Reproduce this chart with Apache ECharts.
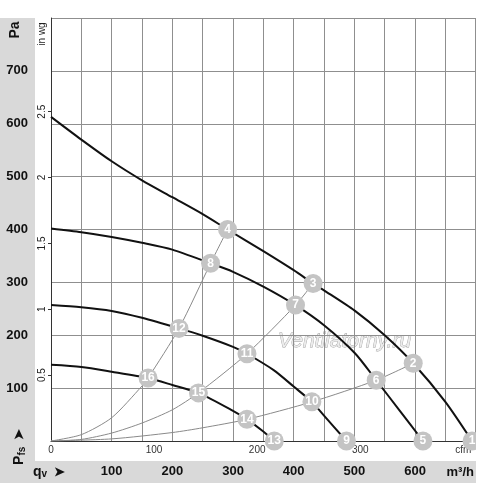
<!DOCTYPE html>
<html>
<head>
<meta charset="utf-8">
<script src="https://cdn.jsdelivr.net/npm/echarts@6.0.0/dist/echarts.min.js"></script>
<style>
  html, body { margin: 0; padding: 0; background: #fff; }
  #chart { width: 500px; height: 483px; }
</style>
</head>
<body>
<div id="chart"></div>
<script>
// fan curves: airflow m3/h vs static pressure Pa
var curve1Q = [0, 50, 100, 150, 200, 250, 291, 350, 400, 432, 450, 500, 550, 597, 650, 694];
var curve1P = [613, 570, 529, 493, 461, 429, 400, 359, 323, 298, 285, 247, 200, 147, 74, 0];
var curve2Q = [0, 50, 100, 150, 200, 263, 300, 350, 403, 450, 501, 536, 575, 613];
var curve2P = [402, 395, 386, 375, 362, 336, 320, 292, 257, 219, 166, 115, 57, 0];
var curve3Q = [0, 50, 100, 150, 211, 250, 300, 323, 367, 400, 430, 450, 487];
var curve3P = [257, 253, 246, 233, 213, 199, 178, 165, 134, 103, 74, 48, 0];
var curve4Q = [0, 50, 100, 160, 200, 243, 300, 323, 350, 368];
var curve4P = [144, 140, 131, 119, 106, 91, 57, 41, 18, 0];

// system (resistance) curves, thin gray
var sysAQ = [0, 50, 100, 150, 160, 211, 263, 291];
var sysAP = [0, 12, 44, 104, 119, 213, 336, 400];
var sysBQ = [0, 50, 100, 150, 200, 243, 323, 403, 432];
var sysBP = [0, 3, 15, 34, 59, 91, 165, 257, 298];
var sysCQ = [0, 100, 200, 250, 323, 430, 536, 597];
var sysCP = [0, 4, 16, 25, 41, 74, 115, 147];

// numbered operating points
var markNo = ['1', '2', '3', '4', '5', '6', '7', '8', '9', '10', '11', '12', '13', '14', '15', '16'];
var markQ = [694, 597, 432, 291, 613, 536, 403, 263, 487, 430, 323, 211, 368, 323, 243, 160];
var markP = [0, 147, 298, 400, 0, 115, 257, 336, 0, 74, 165, 213, 0, 41, 91, 119];

// axes
var paTicks = [100, 200, 300, 400, 500, 600, 700];
var m3hTicks = [100, 200, 300, 400, 500, 600];
var inWgTicks = [0.5, 1, 1.5, 2, 2.5];
var cfmTicks = [0, 100, 200, 300, 400];

var FONT = '"Liberation Sans", Arial, sans-serif';

function pairs(q, p) {
  return q.map(function (v, i) { return [v, p[i]]; });
}

var chart = echarts.init(document.getElementById('chart'));

var fanLine = {
  type: 'line', smooth: 0.25, symbol: 'none', z: 3,
  lineStyle: { color: '#111', width: 2 }
};
var sysLine = {
  type: 'line', smooth: 0.25, symbol: 'none', z: 2,
  lineStyle: { color: '#8a8a8a', width: 1 }
};

chart.setOption({
  animation: false,
  backgroundColor: '#fff',
  textStyle: { fontFamily: FONT },
  grid: { left: 51, top: 18, right: 24.3, bottom: 42 },
  graphic: [
    { type: 'rect', z: -10, shape: { x: 0, y: 18, width: 35, height: 465 }, style: { fill: '#d9d9d9' } },
    { type: 'rect', z: -10, shape: { x: 0, y: 461, width: 476, height: 22 }, style: { fill: '#d9d9d9' } },
    { type: 'text', z: -5, x: 278, y: 331, style: {
      text: 'Ventilatorny.ru', font: 'italic 21px ' + FONT,
      fill: '#ececec', stroke: '#a0a0a0', lineWidth: 0.8 } },
    { type: 'rect', z: 50, shape: { x: 476, y: 0, width: 24, height: 483 }, style: { fill: '#fff' } },
    { type: 'text', z: 60, x: 15, y: 30, rotation: Math.PI / 2, style: {
      text: 'Pa', font: 'bold 14px ' + FONT, fill: '#111', align: 'center', verticalAlign: 'middle' } },
    { type: 'text', z: 60, x: 42, y: 34, rotation: Math.PI / 2, style: {
      text: 'in wg', font: '10px ' + FONT, fill: '#222', align: 'center', verticalAlign: 'middle' } },
    { type: 'text', z: 60, x: 19, y: 447, rotation: Math.PI / 2, style: {
      text: '{p|P}{s|fs}  {a|➤}', align: 'center', verticalAlign: 'middle',
      rich: {
        p: { font: 'bold 14px ' + FONT, fill: '#111' },
        s: { font: 'bold 10px ' + FONT, fill: '#111', padding: [6, 0, 0, 0] },
        a: { font: 'bold 13px ' + FONT, fill: '#111' }
      } } },
    { type: 'text', z: 60, x: 33, y: 472, style: {
      text: '{q|q}{v|v}  {a|➤}', verticalAlign: 'middle',
      rich: {
        q: { font: 'bold 14px ' + FONT, fill: '#111' },
        v: { font: 'bold 10px ' + FONT, fill: '#111', padding: [4, 0, 0, 0] },
        a: { font: 'bold 13px ' + FONT, fill: '#111' }
      } } },
    { type: 'text', z: 60, x: 474, y: 472, style: {
      text: 'm³/h', font: 'bold 13px ' + FONT, fill: '#111', align: 'right', verticalAlign: 'middle' } }
  ],
  xAxis: [
    {
      type: 'value', min: 0, max: 700, interval: 50, position: 'bottom',
      axisLine: { show: true, lineStyle: { color: '#333', width: 1 } },
      axisTick: { show: false },
      axisLabel: {
        margin: 24, fontSize: 13, fontWeight: 'bold', color: '#111', fontFamily: FONT,
        customValues: m3hTicks
      },
      splitLine: { show: true, lineStyle: { color: '#8f8f8f', width: 1 } }
    },
    {
      type: 'value', min: 0, max: 700 / 1.699, position: 'bottom',
      axisLine: { show: false },
      axisTick: { show: false },
      axisLabel: {
        margin: 4, fontSize: 10, color: '#333', fontFamily: FONT,
        customValues: cfmTicks,
        formatter: function (v) { return v === 400 ? 'cfm' : String(v); }
      },
      splitLine: { show: false }
    }
  ],
  yAxis: [
    {
      type: 'value', min: 0, max: 800, interval: 100, position: 'left',
      axisLine: { show: true, lineStyle: { color: '#333', width: 1 } },
      axisTick: { show: false },
      axisLabel: {
        margin: 23, fontSize: 13, fontWeight: 'bold', color: '#111', fontFamily: FONT,
        customValues: paTicks
      },
      splitLine: { show: true, lineStyle: { color: '#8f8f8f', width: 1 } }
    },
    {
      type: 'value', min: 0, max: 800 / 249.09, position: 'left',
      axisLine: { show: false },
      axisTick: { show: true, length: 3, customValues: inWgTicks, lineStyle: { color: '#333' } },
      axisLabel: {
        rotate: 90, margin: 4, fontSize: 10, color: '#222', fontFamily: FONT,
        customValues: inWgTicks
      },
      splitLine: { show: false }
    }
  ],
  series: [
    Object.assign({ data: pairs(sysAQ, sysAP) }, sysLine),
    Object.assign({ data: pairs(sysBQ, sysBP) }, sysLine),
    Object.assign({ data: pairs(sysCQ, sysCP) }, sysLine),
    Object.assign({ data: pairs(curve1Q, curve1P) }, fanLine),
    Object.assign({ data: pairs(curve2Q, curve2P) }, fanLine),
    Object.assign({ data: pairs(curve3Q, curve3P) }, fanLine),
    Object.assign({ data: pairs(curve4Q, curve4P) }, fanLine),
    {
      type: 'scatter', z: 5, clip: false, symbolSize: 19,
      itemStyle: { color: '#c4c4c4', opacity: 1 },
      label: {
        show: true, position: 'inside', color: '#fff', fontSize: 12, fontWeight: 'bold',
        fontFamily: FONT, formatter: function (p) { return p.name; }
      },
      data: markQ.map(function (q, i) { return { name: markNo[i], value: [q, markP[i]] }; })
    }
  ]
});
</script>
</body>
</html>
